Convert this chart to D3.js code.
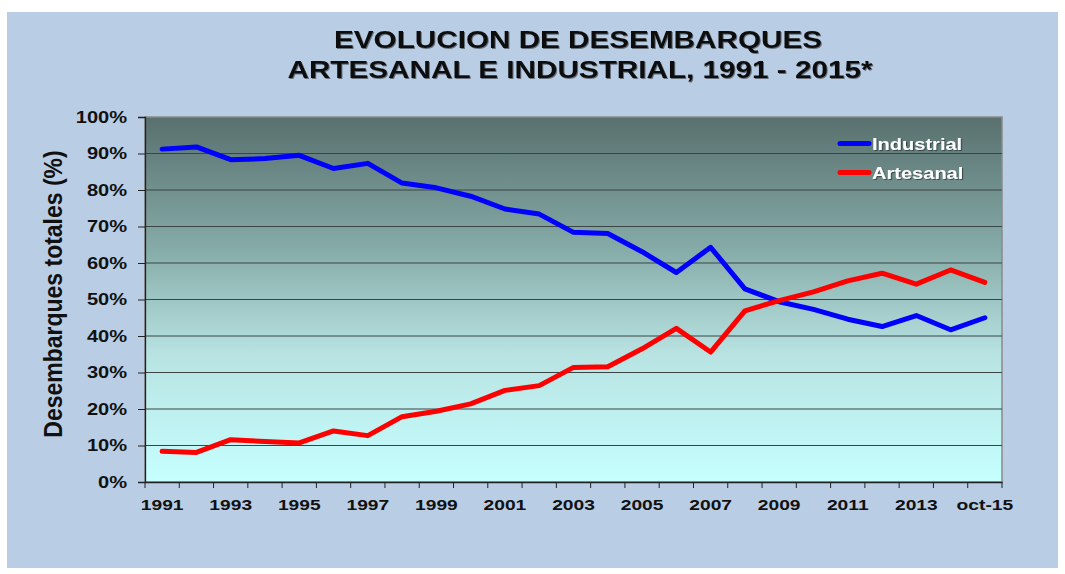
<!DOCTYPE html>
<html>
<head>
<meta charset="utf-8">
<script src="https://cdn.jsdelivr.net/npm/d3@7"></script>
<style>
  body { margin: 0; background: #fff; }
  text { font-family: "Liberation Sans", Arial, sans-serif; font-weight: bold; }
</style>
</head>
<body>
<svg id="chart" width="1065" height="574"></svg>
<script>
// Data
const years = ["1991","1992","1993","1994","1995","1996","1997","1998","1999","2000",
  "2001","2002","2003","2004","2005","2006","2007","2008","2009","2010",
  "2011","2012","2013","2014","oct-15"];
const industrial = [91.2, 91.8, 88.3, 88.6, 89.5, 85.9, 87.3, 81.9, 80.6, 78.3,
  74.8, 73.4, 68.4, 68.1, 63.1, 57.4, 64.3, 52.9, 49.4, 47.3,
  44.6, 42.6, 45.6, 41.7, 45.0];
const artesanal = [8.4, 8.1, 11.6, 11.1, 10.7, 14.0, 12.7, 17.9, 19.4, 21.4,
  25.1, 26.4, 31.4, 31.6, 36.5, 42.1, 35.6, 46.9, 49.7, 52.1,
  55.1, 57.2, 54.2, 58.1, 54.7];
const yTicks = [0, 10, 20, 30, 40, 50, 60, 70, 80, 90, 100];
const series = [
  { name: "Industrial", values: industrial, color: "#0000ff" },
  { name: "Artesanal", values: artesanal, color: "#ff0000" }
];

// the source image is stretched sideways, so widen text around its anchor
function stretch(sel, k) {
  sel.each(function () {
    const t = d3.select(this);
    const x0 = +t.attr("x") || 0;
    t.attr("transform", `translate(${x0},0) scale(${k},1) translate(${-x0},0)`);
  });
}

const svg = d3.select("#chart");

// defs: gradient + shadow
const defs = svg.append("defs");
const grad = defs.append("linearGradient")
  .attr("id", "plotGrad").attr("x1", 0).attr("y1", 0).attr("x2", 0).attr("y2", 1);
grad.append("stop").attr("offset", "0%").attr("stop-color", "#58706e");
grad.append("stop").attr("offset", "35%").attr("stop-color", "#84a9a6");
grad.append("stop").attr("offset", "65%").attr("stop-color", "#b8e3e2");
grad.append("stop").attr("offset", "100%").attr("stop-color", "#c6ffff");

const shadow = defs.append("filter").attr("id", "shadow")
  .attr("x", "-10%").attr("y", "-10%").attr("width", "120%").attr("height", "130%");
shadow.append("feDropShadow").attr("dx", 1).attr("dy", 1).attr("stdDeviation", 0.6)
  .attr("flood-color", "#000").attr("flood-opacity", 0.45);

// background panel
svg.append("rect")
  .attr("x", 7).attr("y", 12).attr("width", 1051).attr("height", 556)
  .attr("fill", "#b9cde5");

const margin = { left: 145, top: 117, right: 1002, bottom: 482 };

const x = d3.scaleBand()
  .domain(years)
  .range([margin.left, margin.right]);

const y = d3.scaleLinear()
  .domain([0, 100])
  .range([margin.bottom, margin.top]);

// plot area
svg.append("rect")
  .attr("x", margin.left).attr("y", margin.top)
  .attr("width", margin.right - margin.left).attr("height", margin.bottom - margin.top)
  .attr("fill", "url(#plotGrad)")
  .attr("stroke", "#8a8a8a").attr("stroke-width", 1.5);

// gridlines
svg.append("g")
  .selectAll("line")
  .data(yTicks.filter(d => d > 0 && d < 100))
  .enter().append("line")
  .attr("x1", margin.left).attr("x2", margin.right)
  .attr("y1", d => y(d)).attr("y2", d => y(d))
  .attr("stroke", "#3a4444").attr("stroke-width", 1.2);

// y axis
const yAxis = svg.append("g")
  .attr("transform", `translate(${margin.left},0)`)
  .call(d3.axisLeft(y).tickValues(yTicks).tickFormat(d => d + "%").tickSize(7).tickPadding(11));
yAxis.select(".domain").attr("stroke", "#222").attr("stroke-width", 1.3);
yAxis.selectAll(".tick line").attr("stroke", "#222");
yAxis.selectAll("text").attr("font-size", 17).attr("fill", "#111")
  .attr("font-family", "Liberation Sans, Arial, sans-serif").attr("font-weight", "bold")
  .call(stretch, 1.18);

// x axis
const xAxis = svg.append("g")
  .attr("transform", `translate(0,${margin.bottom})`)
  .call(d3.axisBottom(x).tickSize(0).tickPadding(17)
    .tickFormat((d, i) => i % 2 === 0 ? d : ""));
xAxis.select(".domain").attr("stroke", "#222").attr("stroke-width", 1.3);
xAxis.selectAll("text").attr("font-size", 15.5).attr("fill", "#111")
  .attr("font-family", "Liberation Sans, Arial, sans-serif").attr("font-weight", "bold")
  .call(stretch, 1.24);
// ticks on band boundaries
xAxis.append("g").selectAll("line")
  .data(years.concat(["end"]))
  .enter().append("line")
  .attr("x1", (d, i) => margin.left + i * x.bandwidth())
  .attr("x2", (d, i) => margin.left + i * x.bandwidth())
  .attr("y1", 0).attr("y2", 6)
  .attr("stroke", "#222");

// lines
const line = d3.line()
  .x((d, i) => x(years[i]) + x.bandwidth() / 2)
  .y(d => y(d));

svg.append("g").selectAll("path")
  .data(series)
  .enter().append("path")
  .attr("d", d => line(d.values))
  .attr("fill", "none")
  .attr("stroke", d => d.color)
  .attr("stroke-width", 5)
  .attr("stroke-linejoin", "round")
  .attr("stroke-linecap", "round");

// legend
const legend = svg.append("g").attr("transform", "translate(840,143.5)");
const item = legend.selectAll("g")
  .data(series)
  .enter().append("g")
  .attr("transform", (d, i) => `translate(0,${i * 29})`);
item.append("line")
  .attr("x1", 0).attr("x2", 29).attr("y1", 0).attr("y2", 0)
  .attr("stroke", d => d.color).attr("stroke-width", 5).attr("stroke-linecap", "round");
item.append("text")
  .attr("x", 32).attr("y", 6.5)
  .attr("font-size", 17).attr("fill", "#fff")
  .attr("filter", "url(#shadow)")
  .text(d => d.name)
  .call(stretch, 1.18);

// title
const title = svg.append("g").attr("filter", "url(#shadow)");
title.append("text")
  .attr("x", 578).attr("y", 48).attr("text-anchor", "middle")
  .attr("font-size", 23).attr("fill", "#111")
  .attr("textLength", 488).attr("lengthAdjust", "spacingAndGlyphs")
  .text("EVOLUCION DE DESEMBARQUES");
title.append("text")
  .attr("x", 580).attr("y", 77.5).attr("text-anchor", "middle")
  .attr("font-size", 23).attr("fill", "#111")
  .attr("textLength", 585).attr("lengthAdjust", "spacingAndGlyphs")
  .text("ARTESANAL E INDUSTRIAL, 1991 - 2015*");

// y axis title
svg.append("text")
  .attr("transform", "translate(62,294) scale(1.15,1) rotate(-90)")
  .attr("text-anchor", "middle")
  .attr("font-size", 23).attr("fill", "#111")
  .text("Desembarques totales (%)");
</script>
</body>
</html>
